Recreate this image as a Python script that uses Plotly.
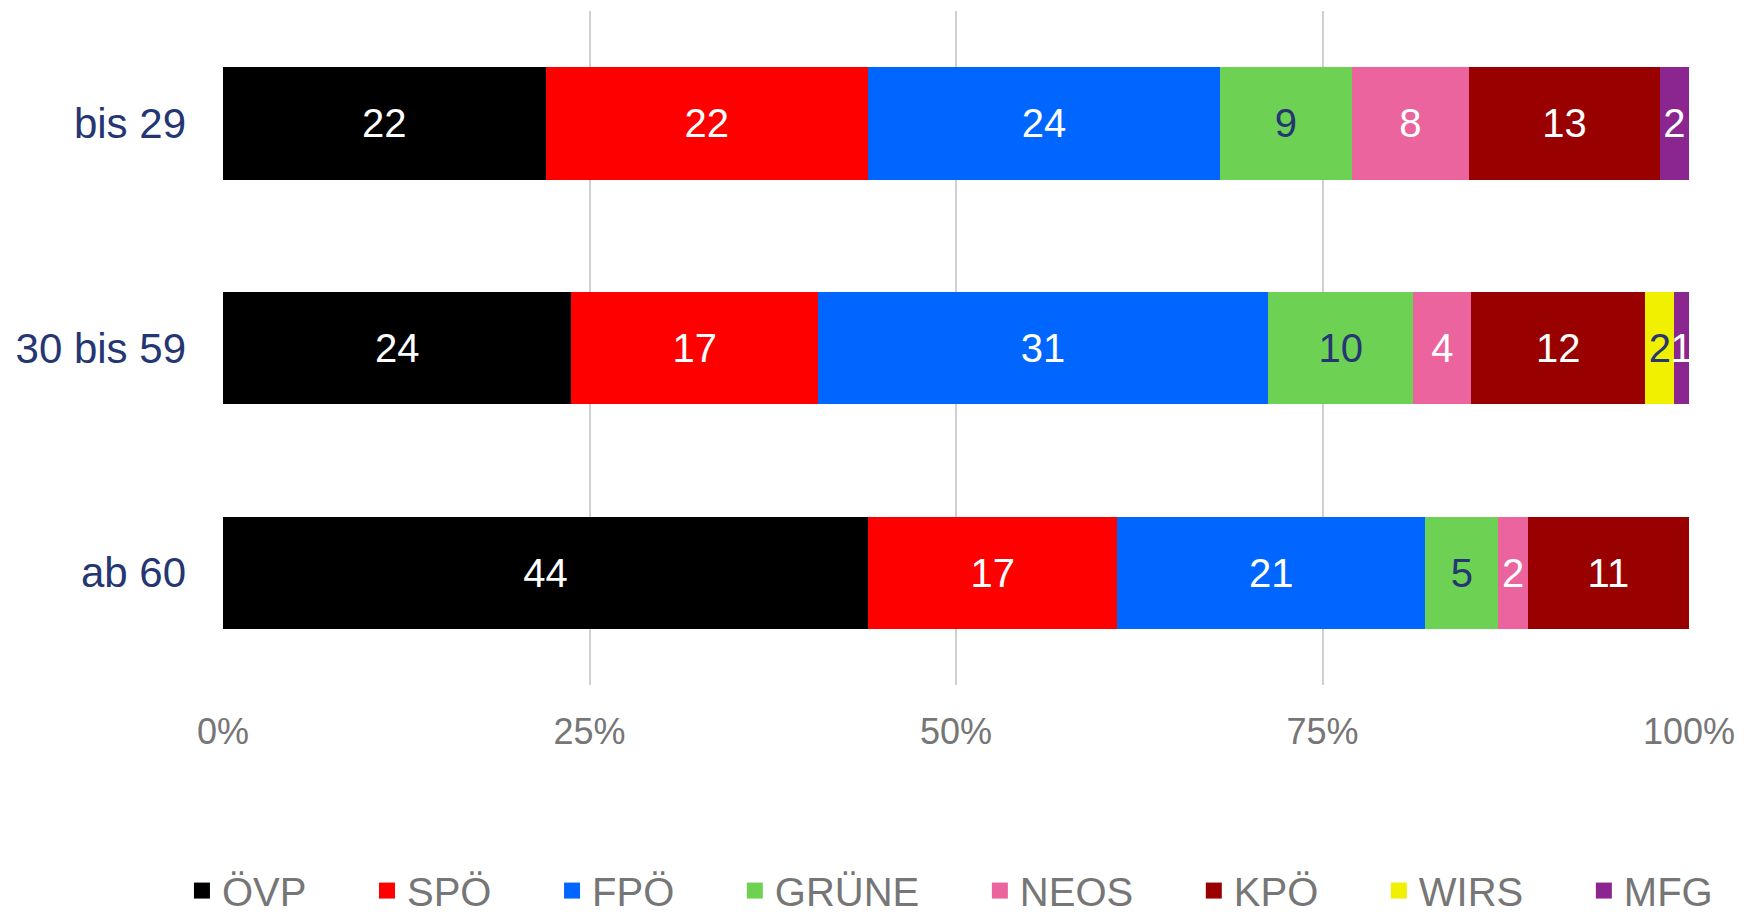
import plotly.graph_objects as go

categories = ["bis 29", "30 bis 59", "ab 60"]
parties = ["ÖVP", "SPÖ", "FPÖ", "GRÜNE", "NEOS", "KPÖ", "WIRS", "MFG"]
oevp = [22, 24, 44]
spoe = [22, 17, 17]
fpoe = [24, 31, 21]
gruene = [9, 10, 5]
neos = [8, 4, 2]
kpoe = [13, 12, 11]
wirs = [0, 2, 0]
mfg = [2, 1, 0]

series = [oevp, spoe, fpoe, gruene, neos, kpoe, wirs, mfg]
colors = ["#000000", "#FF0000", "#0066FF", "#6DD254", "#EC649D", "#990000", "#F0F000", "#8B2590"]
navy = "#253673"
text_colors = ["#FFFFFF", "#FFFFFF", "#FFFFFF", navy, "#FFFFFF", "#FFFFFF", navy, "#FFFFFF"]
FONT = "Liberation Sans, Arial, sans-serif"

fig = go.Figure()
for i, (name, vals, col, tcol) in enumerate(zip(parties, series, colors, text_colors)):
    fig.add_trace(go.Bar(
        y=categories, x=vals, name=name, orientation="h",
        marker=dict(color=col, line=dict(width=0)),
        text=[str(v) if v else "" for v in vals],
        texttemplate="%{text}",
        textposition="inside", insidetextanchor="middle",
        textfont=dict(family=FONT, size=40, color=tcol),
        constraintext="none", cliponaxis=False,
        hoverinfo="skip", showlegend=False, legendgroup=name,
    ))

# legend entries (square swatches)
for i, (name, col) in enumerate(zip(parties, colors)):
    pad = "\u00a0" * 5 if i < len(parties) - 1 else ""
    fig.add_trace(go.Scatter(
        x=[None], y=[None], mode="markers", name=name + pad,
        marker=dict(symbol="square", size=20, color=col, line=dict(width=0)),
        legendgroup=name, hoverinfo="skip",
    ))

# page body has an 8px margin; the figure is sized/offset to compensate
fig.update_layout(
    barmode="stack", barnorm="percent", bargap=0.5,
    width=1745, height=909,
    margin=dict(l=215, r=64, t=3, b=232, autoexpand=False),
    paper_bgcolor="white", plot_bgcolor="white",
    font=dict(family=FONT),
    uniformtext=dict(minsize=40, mode="show"),
    xaxis=dict(
        range=[0, 100], tickvals=[0, 25, 50, 75, 100],
        ticktext=["0%", "25%", "50%", "75%", "100%"],
        showgrid=True, gridcolor="#D0D0D0", gridwidth=2,
        zeroline=False, showline=False, ticks="",
        tickfont=dict(family=FONT, size=36, color="#767676"),
        ticklabelstandoff=22, automargin=False,
    ),
    yaxis=dict(
        autorange="reversed", showgrid=False, zeroline=False, showline=False,
        ticks="", tickfont=dict(family=FONT, size=42, color=navy),
        ticklabelstandoff=36, automargin=False,
    ),
    legend=dict(
        orientation="h", xref="paper", yref="paper",
        x=-0.028, xanchor="left", y=-0.305, yanchor="middle",
        font=dict(family=FONT, size=40, color="#767676"),
        traceorder="normal", itemclick=False, itemdoubleclick=False,
    ),
    showlegend=True,
)

fig.write_html("out.html")
